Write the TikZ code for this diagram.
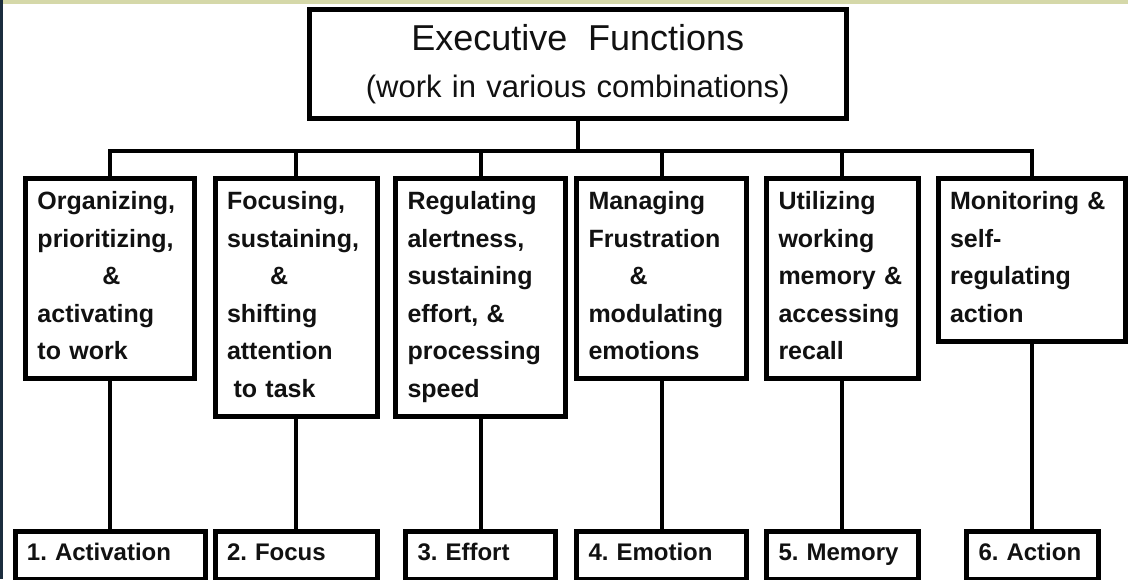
\documentclass[tikz,border=0pt]{standalone}
\usepackage{fontspec}
\setmainfont{Liberation Sans}
\usetikzlibrary{positioning}
\hyphenpenalty=10000
\exhyphenpenalty=10000
\frenchspacing

\definecolor{bandgreen}{HTML}{D5D8A9}
\definecolor{edgenavy}{HTML}{1B2D3E}
\definecolor{ink}{HTML}{111111}

\tikzset{
  skillbox/.style={draw, line width=5pt, anchor=north west, align=left,
    inner xsep=12pt, inner ysep=7.75pt, text height=23.25pt, text=ink,
    font=\bfseries\fontsize{25}{37.5}\selectfont},
  domainbox/.style={draw, line width=5pt, anchor=north west, align=left,
    inner xsep=12pt, inner ysep=4pt, text height=25pt, text depth=15.5pt, text=ink,
    font=\bfseries\fontsize{24}{28}\selectfont},
  link/.style={line width=4pt},
}

\begin{document}
\begin{tikzpicture}[x=1pt,y=-1pt]
\useasboundingbox (0,0) rectangle (1128,579);
\fill[white] (0,0) rectangle (1128,579);
\fill[bandgreen] (0,0) rectangle (1128,4);
\fill[edgenavy] (0,0) rectangle (3,579);

\node[draw, line width=5pt, anchor=north, inner sep=0pt, text width=537.5pt, align=center,
  text height=41.5pt, text depth=67.5pt, text=ink, font=\fontsize{31}{47}\selectfont]
  (EF) at (577.75,6.5) {{\fontsize{36}{47}\selectfont Executive~~Functions}\\(work in various combinations)};

\node[skillbox, text width=145pt] (S1) at (23,176)
  {Organizing,\\prioritizing,\\\hspace*{65pt}\&\\activating\\to work\strut};
\node[skillbox, text width=138pt] (S2) at (212.5,176)
  {Focusing,\\sustaining,\\\hspace*{43pt}\&\\shifting\\attention\\\hspace*{6.5pt}to task\strut};
\node[skillbox, text width=146pt] (S3) at (393,176)
  {Regulating\\alertness,\\sustaining\\effort, \&\\processing\\speed\strut};
\node[skillbox, text width=146pt] (S4) at (574,176)
  {Managing\\Frustration\\\hspace*{41pt}\&\\modulating\\emotions\strut};
\node[skillbox, text width=127.5pt] (S5) at (764,176)
  {Utilizing\\working\\memory \&\\accessing\\recall\strut};
\node[skillbox, text width=163.5pt] (S6) at (935.5,176)
  {Monitoring \&\\self-\\regulating\\action\strut};

\node[domainbox, text width=166pt] (D1) at (12.5,528.5) {1. Activation};
\node[domainbox, text width=138pt] (D2) at (212.5,528.5) {2. Focus};
\node[domainbox, text width=126pt] (D3) at (403,528.5) {3. Effort};
\node[domainbox, text width=146pt] (D4) at (574,528.5) {4. Emotion};
\node[domainbox, text width=127.5pt] (D5) at (764,528.5) {5. Memory};
\node[domainbox, text width=107.5pt] (D6) at (964,528.5) {6. Action};

\draw[link] (EF.south) -- ++(0,30) coordinate (bus);
\draw[link] (S1.north) |- (bus) -| (S6.north);
\foreach \i in {2,...,5}
  \draw[link] (S\i.north) -- (S\i.north |- bus);
\foreach \i in {1,...,6}
  \draw[link] (S\i.south) -- (S\i.south |- D\i.north);
\end{tikzpicture}
\end{document}
